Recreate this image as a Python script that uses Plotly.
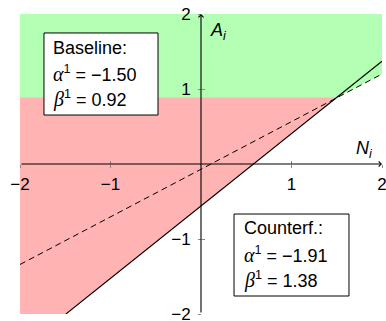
import numpy as np
import plotly.graph_objects as go

# Decision boundaries in the (N_i, A_i) plane: A = intercept + slope * N
solid_intercept, solid_slope = -0.56, 0.965     # counterfactual boundary (solid)
dashed_intercept, dashed_slope = -0.07, 0.635   # baseline boundary (dashed)
threshold = 0.89                                # horizontal cut-off in A_i

# Parameter values shown in the two boxes
baseline_alpha, baseline_beta = -1.50, 0.92
counterf_alpha, counterf_beta = -1.91, 1.38

x_ticks = [-2, -1, 1, 2]
x_tick_labels = ["−2", "−1", "1", "2"]
y_ticks = [-2, -1, 1, 2]
y_tick_labels = ["−2", "−1", "1", "2"]

lo, hi = -2.0, 2.0
FONT = "Liberation Sans"
SERIF = "Liberation Serif"
SP = "&nbsp;"


def solid(n):
    return solid_intercept + solid_slope * n


def dashed(n):
    return dashed_intercept + dashed_slope * n


def fmt(v):
    return f"{v:.2f}".replace("-", "−")


# crossing points of the boundaries with the threshold and the frame
n_solid_thr = (threshold - solid_intercept) / solid_slope
n_solid_low = (lo - solid_intercept) / solid_slope
n_dashed_thr = (threshold - dashed_intercept) / dashed_slope

fig = go.Figure()

# green region: above the threshold and above the dashed boundary
fig.add_trace(go.Scatter(
    x=[lo, hi, hi, n_dashed_thr, lo],
    y=[hi, hi, dashed(hi), threshold, threshold],
    fill="toself", fillcolor="rgb(179,255,179)", mode="none",
    hoverinfo="skip", showlegend=False))

# red region: below the threshold and above the solid boundary
fig.add_trace(go.Scatter(
    x=[lo, n_solid_thr, n_solid_low, lo],
    y=[threshold, threshold, lo, lo],
    fill="toself", fillcolor="rgb(255,179,179)", mode="none",
    hoverinfo="skip", showlegend=False))

# dashed boundary
nd = np.array([lo, hi])
fig.add_trace(go.Scatter(
    x=nd, y=dashed(nd), mode="lines",
    line=dict(color="black", width=1, dash="6px,4px"),
    hoverinfo="skip", showlegend=False))

# solid boundary, clipped at the bottom of the frame
ns = np.array([n_solid_low, hi])
fig.add_trace(go.Scatter(
    x=ns, y=solid(ns), mode="lines",
    line=dict(color="black", width=1.1),
    hoverinfo="skip", showlegend=False))

# parameter boxes
boxes = [
    dict(x0=-1.735, x1=-0.475, y0=0.653, y1=1.747, tx=-1.657,
         ys=[1.547, 1.213, 0.867], title="Baseline:",
         alpha=baseline_alpha, beta=baseline_beta),
    dict(x0=0.365, x1=1.635, y0=-1.76, y1=-0.667, tx=0.453,
         ys=[-0.853, -1.2, -1.547], title="Counterf.:",
         alpha=counterf_alpha, beta=counterf_beta),
]
annotations = []
shapes = []
for b in boxes:
    shapes.append(dict(type="rect", xref="x", yref="y",
                       x0=b["x0"], x1=b["x1"], y0=b["y0"], y1=b["y1"],
                       fillcolor="white", line=dict(color="black", width=1),
                       layer="above"))
    lines = [
        b["title"],
        f'<span style="font-family:{SERIF};font-size:20px"><i>α</i></span>'
        f'<sup>1</sup>{SP}={SP}{fmt(b["alpha"])}',
        f'<span style="font-family:{SERIF};font-size:20px"><i>β</i></span>'
        f'<sup>1</sup>{SP}={SP}{fmt(b["beta"])}',
    ]
    for txt, yy in zip(lines, b["ys"]):
        annotations.append(dict(x=b["tx"], y=yy, xref="x", yref="y",
                                text=txt, showarrow=False,
                                xanchor="left", yanchor="middle",
                                font=dict(family=FONT, size=18, color="black")))

# axis lines with arrow heads
annotations.append(dict(x=hi, y=0, ax=lo, ay=0, xref="x", yref="y",
                        axref="x", ayref="y", text="", showarrow=True,
                        arrowhead=4, arrowsize=0.9, arrowwidth=1.1,
                        arrowcolor="black", standoff=0))
annotations.append(dict(x=0, y=hi, ax=0, ay=lo, xref="x", yref="y",
                        axref="x", ayref="y", text="", showarrow=True,
                        arrowhead=4, arrowsize=0.9, arrowwidth=1.1,
                        arrowcolor="black", standoff=0))

# axis titles
annotations.append(dict(x=0.19, y=1.77, xref="x", yref="y",
                        text="<i>A<sub>i</sub></i>", showarrow=False,
                        font=dict(family=FONT, size=18, color="black")))
annotations.append(dict(x=1.81, y=0.19, xref="x", yref="y",
                        text="<i>N<sub>i</sub></i>", showarrow=False,
                        font=dict(family=FONT, size=18, color="black")))

tick_font = dict(family=FONT, size=17, color="black")
common = dict(range=[lo, hi], anchor="free", position=0.5, automargin=False,
              showgrid=False, zeroline=False, showline=False,
              tickcolor="#888", tickwidth=1, ticklen=3)
fig.update_layout(
    width=386, height=321,
    margin=dict(l=20, r=4, t=14, b=7, autoexpand=False),
    paper_bgcolor="white", plot_bgcolor="white",
    shapes=shapes, annotations=annotations,
    xaxis=dict(**common, tickvals=x_ticks, ticktext=x_tick_labels,
               ticks="outside", tickfont=tick_font, ticklabelstandoff=2,
               ticklabeloverflow="allow"),
    yaxis=dict(**common, tickvals=y_ticks, ticktext=y_tick_labels,
               ticks="outside", tickfont=tick_font, ticklabelstandoff=4,
               ticklabeloverflow="allow"),
    xaxis2=dict(**common, overlaying="x", tickvals=x_ticks, ticks="inside",
                showticklabels=False),
    yaxis2=dict(**common, overlaying="y", tickvals=y_ticks, ticks="inside",
                showticklabels=False),
)

# invisible trace so the secondary tick axes are drawn
fig.add_trace(go.Scatter(x=[lo], y=[lo], xaxis="x2", yaxis="y2",
                         mode="markers", marker=dict(opacity=0),
                         hoverinfo="skip", showlegend=False))

fig.write_html("out.html")
